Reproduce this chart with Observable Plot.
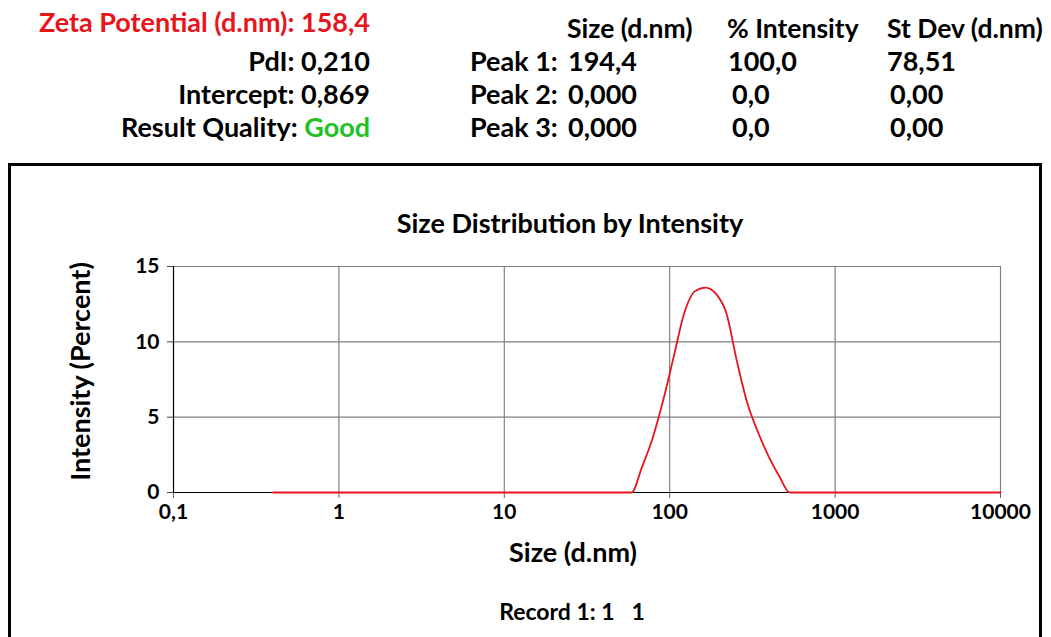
<!DOCTYPE html>
<html><head><meta charset="utf-8">
<script src="https://cdn.jsdelivr.net/npm/d3@7"></script>
<script src="https://cdn.jsdelivr.net/npm/@observablehq/plot@0.6"></script>
<style>
html,body{margin:0;padding:0;background:#fff;}
body{width:1051px;height:637px;position:relative;overflow:hidden;font-family:Lato,sans-serif;font-weight:700;color:#000;}
.t{position:absolute;white-space:pre;font-weight:700;}
#box{position:absolute;left:8px;top:163px;width:1034px;height:520px;border:3px solid #000;box-sizing:border-box;}
#chart{position:absolute;left:0;top:0;}
#chart svg{overflow:visible;}
</style></head><body>
<div id="box"></div>
<div id="chart"></div>
<div id="texts"></div>
<script>
// ---- header data ----
const leftLabels = ["Zeta Potential (d.nm): ", "PdI: ", "Intercept: ", "Result Quality: "];
const leftValues = ["158,4", "0,210", "0,869", "Good"];
const columnHeads = ["Size (d.nm)", "% Intensity", "St Dev (d.nm)"];
const peakNames = ["Peak 1:", "Peak 2:", "Peak 3:"];
const peakSizes = ["194,4", "0,000", "0,000"];
const peakIntensities = ["100,0", "0,0", "0,0"];
const peakStDevs = ["78,51", "0,00", "0,00"];
const chartTitle = "Size Distribution by Intensity";
const recordText = "Record 1: 1   1";
const xLabel = "Size (d.nm)";
const yLabel = "Intensity (Percent)";

// ---- series data ----
const sizes = [0.4, 0.4632, 0.5365, 0.6213, 0.7195, 0.8332, 0.9649, 1.117, 1.294, 1.499,
  1.736, 2.01, 2.328, 2.696, 3.122, 3.615, 4.187, 4.849, 5.615, 6.503,
  7.531, 8.721, 10.1, 11.7, 13.54, 15.69, 18.17, 21.04, 24.36, 28.21,
  32.67, 37.84, 43.82, 50.75, 58.77, 68.06, 78.82, 91.28, 105.7, 122.4,
  141.8, 164.2, 190.1, 220.2, 255, 295.3, 342, 396.1, 458.7, 531.2,
  615.1, 712.4, 825, 955.4, 1106, 1281, 1484, 1718, 1990, 2305,
  2669, 3091, 3580, 4145, 4801, 5560, 6439, 7456, 8635, 10000];
const intensities = [0, 0, 0, 0, 0, 0, 0, 0, 0, 0,
  0, 0, 0, 0, 0, 0, 0, 0, 0, 0,
  0, 0, 0, 0, 0, 0, 0, 0, 0, 0,
  0, 0, 0, 0, 0, 1.7, 3.6, 6.1, 9.0, 11.9,
  13.35, 13.6, 13.2, 11.9, 8.7, 5.9, 4.0, 2.4, 1.1, 0,
  0, 0, 0, 0, 0, 0, 0, 0, 0, 0,
  0, 0, 0, 0, 0, 0, 0, 0, 0, 0];
const xTicks = [0.1, 1, 10, 100, 1000, 10000];
const xTickLabels = ["0,1", "1", "10", "100", "1000", "10000"];
const yTicks = [0, 5, 10, 15];

const data = sizes.map((s, i) => ({size: s, intensity: intensities[i]}));

const chart = Plot.plot({
  width: 1051, height: 637,
  marginLeft: 173, marginRight: 51, marginTop: 266, marginBottom: 145,
  style: {fontFamily: "Lato, sans-serif", fontWeight: "700", fontSize: "21px", color: "#000", background: "transparent", overflow: "visible"},
  x: {type: "log", domain: [0.1, 10000]},
  y: {domain: [0, 15]},
  marks: [
    Plot.gridX(xTicks.slice(1), {stroke: "#808080", strokeOpacity: 1, strokeWidth: 1.2}),
    Plot.gridY(yTicks.slice(1), {stroke: "#808080", strokeOpacity: 1, strokeWidth: 1.2}),
    Plot.axisX({ticks: xTicks, tickFormat: d => xTickLabels[xTicks.indexOf(d)], tickSize: 6, tickPadding: 6, stroke: "#666", fill: "#000", label: null}),
    Plot.axisY({ticks: yTicks, tickSize: 6, tickPadding: 8, stroke: "#444", fill: "#000", label: null}),
    Plot.ruleX([0.1], {stroke: "#000", strokeWidth: 1.2}),
    Plot.ruleY([0], {stroke: "#000", strokeWidth: 1.2}),
    Plot.line(data, {x: "size", y: "intensity", stroke: "#e8141c", strokeWidth: 1.8, curve: "monotone-x"}),
    Plot.text([xLabel], {frameAnchor: "bottom", textAnchor: "middle", lineAnchor: "middle", dx: -14, dy: 61, fontSize: 27, fontWeight: 700, fill: "#000"}),
    Plot.text([yLabel], {frameAnchor: "left", textAnchor: "middle", lineAnchor: "middle", rotate: -90, dx: -92, dy: -8, fontSize: 27, fontWeight: 700, fill: "#000"})
  ]
});
document.getElementById("chart").appendChild(chart);

// ---- HTML text helpers (baseline positioning for Lato) ----
const texts = document.getElementById("texts");
function addText(html, opts) {
  const fs = opts.fs || 27;
  const d = document.createElement("div");
  d.className = "t";
  d.style.fontSize = fs + "px";
  d.style.lineHeight = fs + "px";
  d.style.top = (opts.baseline - 0.887 * fs) + "px";
  if (opts.right !== undefined) { d.style.right = (1051 - opts.right) + "px"; d.style.textAlign = "right"; }
  else if (opts.center !== undefined) { d.style.left = (opts.center - 400) + "px"; d.style.width = "800px"; d.style.textAlign = "center"; }
  else d.style.left = opts.left + "px";
  if (opts.color) d.style.color = opts.color;
  d.innerHTML = html;
  texts.appendChild(d);
}
const leftBaselines = [32, 71, 104, 137];
leftLabels.forEach((lab, i) => {
  let html;
  if (i === 0) html = `<span style="color:#e8141c">${lab}${leftValues[i]}</span>`;
  else if (i === 3) html = `${lab}<span style="color:#22c226">${leftValues[i]}</span>`;
  else html = lab + leftValues[i];
  addText(html, {right: 370, baseline: leftBaselines[i]});
});
const colLefts = [567, 727, 887];
columnHeads.forEach((h, i) => addText(h, {left: colLefts[i], baseline: 39, fs: 26.5}));
const peakBaselines = [71, 104, 137];
peakNames.forEach((p, i) => {
  addText(p, {left: 470, baseline: peakBaselines[i]});
  addText(peakSizes[i], {left: 568, baseline: peakBaselines[i]});
  addText(peakIntensities[i], {left: i === 0 ? 728 : 732, baseline: peakBaselines[i]});
  addText(peakStDevs[i], {left: i === 0 ? 887 : 890, baseline: peakBaselines[i]});
});
addText(chartTitle, {center: 570, baseline: 233, fs: 27});
addText(recordText, {center: 572, baseline: 620, fs: 23});
</script>
</body></html>
